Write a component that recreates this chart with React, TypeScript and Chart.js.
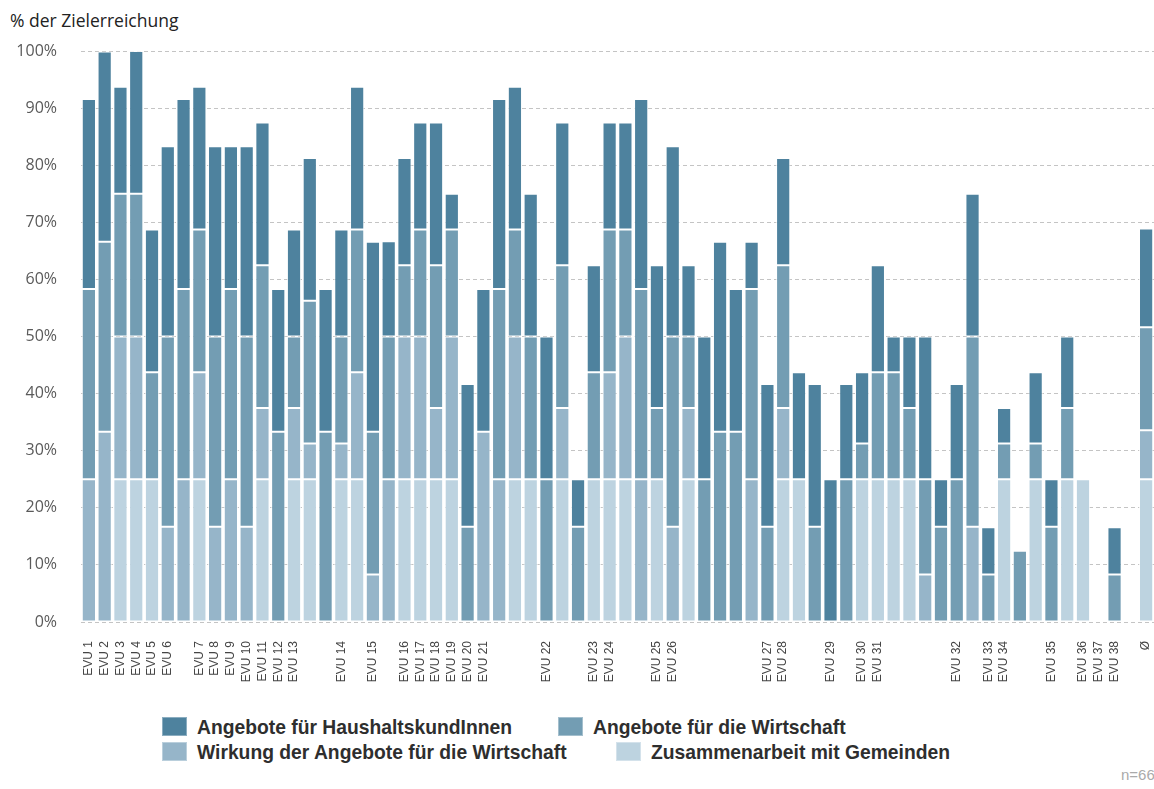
import React, { useEffect, useRef } from 'react';
import { Chart, registerables } from 'chart.js';

Chart.register(...registerables);

// Category labels (66 EVU bars, one spacer, average Ø)
const categories: string[] = [
  'EVU 1', 'EVU 2', 'EVU 3', 'EVU 4', 'EVU 5', 'EVU 6', '', 'EVU 7', 'EVU 8', 'EVU 9',
  'EVU 10', 'EVU 11', 'EVU 12', 'EVU 13', '', '', 'EVU 14', '', 'EVU 15', '',
  'EVU 16', 'EVU 17', 'EVU 18', 'EVU 19', 'EVU 20', 'EVU 21', '', '', '', 'EVU 22',
  '', '', 'EVU 23', 'EVU 24', '', '', 'EVU 25', 'EVU 26', '', '',
  '', '', '', 'EVU 27', 'EVU 28', '', '', 'EVU 29', '', 'EVU 30',
  'EVU 31', '', '', '', '', 'EVU 32', '', 'EVU 33', 'EVU 34', '',
  '', 'EVU 35', '', 'EVU 36', 'EVU 37', 'EVU 38', '', 'Ø',
];

// Zusammenarbeit mit Gemeinden (bottom segment)
const gemeinden: number[] = [
  0, 0, 25, 25, 25, 0, 0, 25, 0, 0,
  0, 25, 0, 25, 25, 0, 25, 25, 0, 0,
  25, 25, 25, 25, 0, 0, 0, 25, 25, 0,
  25, 0, 25, 25, 25, 0, 25, 0, 25, 0,
  0, 0, 0, 0, 25, 25, 0, 0, 0, 25,
  25, 25, 25, 0, 0, 0, 0, 0, 25, 0,
  25, 0, 25, 25, 0, 0, 0, 25,
];

// Wirkung der Angebote für die Wirtschaft
const wirkung: number[] = [
  25, 33.3, 25, 25, 0, 16.7, 25, 18.75, 16.7, 25,
  16.7, 12.5, 0, 12.5, 6.25, 0, 6.25, 18.75, 8.3, 25,
  25, 25, 12.5, 25, 0, 33.3, 25, 25, 0, 0,
  12.5, 0, 0, 18.75, 25, 25, 0, 16.7, 12.5, 0,
  0, 0, 25, 0, 12.5, 0, 0, 0, 0, 0,
  0, 0, 0, 8.3, 0, 0, 16.7, 0, 0, 0,
  0, 0, 0, 0, 0, 0, 0, 8.6,
];

// Angebote für die Wirtschaft
const wirtschaft: number[] = [
  33.3, 33.3, 25, 25, 18.75, 33.3, 33.3, 25, 33.3, 33.3,
  33.3, 25, 33.3, 12.5, 25, 33.3, 18.75, 25, 25, 25,
  12.5, 18.75, 25, 18.75, 16.7, 0, 33.3, 18.75, 25, 25,
  25, 16.7, 18.75, 25, 18.75, 33.3, 12.5, 33.3, 12.5, 25,
  33.3, 33.3, 33.3, 16.7, 25, 0, 16.7, 0, 25, 6.25,
  18.75, 18.75, 12.5, 16.7, 16.7, 25, 33.3, 8.3, 6.25, 12.5,
  6.25, 16.7, 12.5, 0, 0, 8.3, 0, 18.0,
];

// Angebote für HaushaltskundInnen (top segment)
const haushalt: number[] = [
  33.3, 33.3, 18.75, 25, 25, 33.3, 33.3, 25, 33.3, 25,
  33.3, 25, 25, 18.75, 25, 25, 18.75, 25, 33.3, 16.7,
  18.75, 18.75, 25, 6.25, 25, 25, 33.3, 25, 25, 25,
  25, 8.3, 18.75, 18.75, 18.75, 33.3, 25, 33.3, 12.5, 25,
  33.3, 25, 8.3, 25, 18.75, 18.75, 25, 25, 16.7, 12.5,
  18.75, 6.25, 12.5, 25, 8.3, 16.7, 25, 8.3, 6.25, 0,
  12.5, 8.3, 12.5, 0, 0, 8.3, 0, 17.3,
];

const seriesNames = [
  'Angebote für HaushaltskundInnen',
  'Angebote für die Wirtschaft',
  'Wirkung der Angebote für die Wirtschaft',
  'Zusammenarbeit mit Gemeinden',
];

const COLORS = {
  haushalt: '#4e829e',
  wirtschaft: '#739db3',
  wirkung: '#96b5c9',
  gemeinden: '#bdd3e0',
};

const W = 1154;
const CANVAS_H = 705;

export default function App() {
  const canvasRef = useRef<HTMLCanvasElement | null>(null);

  useEffect(() => {
    if (!canvasRef.current) return;
    const mk = (label: string, data: number[], color: string) => ({
      label,
      data,
      backgroundColor: color,
      borderColor: 'rgba(255,255,255,0.8)',
      borderWidth: 1,
      borderSkipped: false as const,
      barPercentage: 0.9,
      categoryPercentage: 1.0,
    });
    const chart = new Chart(canvasRef.current, {
      type: 'bar',
      data: {
        labels: categories,
        datasets: [
          mk(seriesNames[3], gemeinden, COLORS.gemeinden),
          mk(seriesNames[2], wirkung, COLORS.wirkung),
          mk(seriesNames[1], wirtschaft, COLORS.wirtschaft),
          mk(seriesNames[0], haushalt, COLORS.haushalt),
        ],
      },
      options: {
        animation: false,
        responsive: false,
        maintainAspectRatio: false,
        devicePixelRatio: 1,
        layout: { padding: { top: 51, left: 0, right: 0, bottom: 0 } },
        plugins: {
          legend: { display: false },
          tooltip: { enabled: false },
          title: { display: false },
        },
        scales: {
          x: {
            stacked: true,
            grid: { display: false, drawTicks: false },
            border: { display: false },
            ticks: {
              autoSkip: false,
              maxRotation: 90,
              minRotation: 90,
              padding: 19,
              color: '#444',
              font: { family: '"Liberation Sans", Arial, sans-serif', size: 12 },
            },
            afterFit: (scale: any) => {
              scale.height = CANVAS_H - 622;
              scale.paddingLeft = 0;
              scale.paddingRight = 0;
            },
          },
          y: {
            stacked: true,
            min: 0,
            max: 100,
            grid: {
              color: '#c4c4c4',
              lineWidth: 1,
              drawTicks: false,
            },
            border: { display: false, dash: [4, 3] },
            ticks: {
              stepSize: 10,
              padding: 24,
              color: '#5a5a5a',
              font: { family: '"Open Sans", sans-serif', size: 16 },
              callback: (v: any) => `${v}%`,
            },
            afterFit: (scale: any) => {
              scale.width = 81;
            },
          },
        },
      },
    });
    return () => chart.destroy();
  }, []);

  const legendItems = [
    { name: seriesNames[0], color: COLORS.haushalt, x: 162, y: 717 },
    { name: seriesNames[1], color: COLORS.wirtschaft, x: 558, y: 717 },
    { name: seriesNames[2], color: COLORS.wirkung, x: 162, y: 742 },
    { name: seriesNames[3], color: COLORS.gemeinden, x: 616, y: 742 },
  ];

  return (
    <div
      style={{
        position: 'absolute',
        left: 0,
        top: 0,
        width: W,
        height: 789,
        overflow: 'hidden',
        background: '#fff',
      }}
    >
      <div
        style={{
          position: 'absolute',
          left: 10,
          top: 10,
          fontFamily: '"Open Sans", sans-serif',
          fontSize: 17.5,
          lineHeight: '20px',
          color: '#222',
          whiteSpace: 'nowrap',
        }}
      >
        % der Zielerreichung
      </div>
      <canvas
        ref={canvasRef}
        width={W}
        height={CANVAS_H}
        style={{ position: 'absolute', left: 0, top: 0, width: W, height: CANVAS_H }}
      />
      {legendItems.map((it) => (
        <div key={it.name}>
          <div
            style={{
              position: 'absolute',
              left: it.x,
              top: it.y,
              width: 25,
              height: 19,
              background: it.color,
              boxShadow: 'inset 0 0 0 1px rgba(255,255,255,0.35)',
            }}
          />
          <div
            style={{
              position: 'absolute',
              left: it.x + 35,
              top: it.y + 1.4,
              fontFamily: '"Liberation Sans", Arial, sans-serif',
              fontWeight: 'bold',
              fontSize: 19.3,
              lineHeight: '20px',
              color: '#2e2e2e',
              whiteSpace: 'nowrap',
            }}
          >
            {it.name}
          </div>
        </div>
      ))}
      <div
        style={{
          position: 'absolute',
          left: 1121,
          top: 766,
          fontFamily: '"Liberation Sans", Arial, sans-serif',
          fontSize: 15,
          lineHeight: '18px',
          color: '#aaa',
          whiteSpace: 'nowrap',
        }}
      >
        n=66
      </div>
    </div>
  );
}
